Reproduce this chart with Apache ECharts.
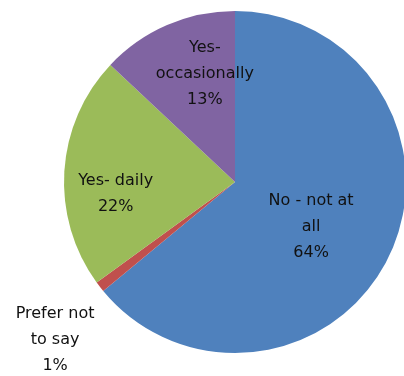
<!DOCTYPE html>
<html>
<head>
<meta charset="utf-8">
<script src="https://cdn.jsdelivr.net/npm/echarts@6/dist/echarts.min.js"></script>
<style>
  html, body { margin: 0; padding: 0; background: #fff; }
  #chart { width: 404px; height: 376px; }
</style>
</head>
<body>
<div id="chart"></div>
<script>
// Survey answers, clockwise from 12 o'clock
const categories = ['No - not at\nall', 'Prefer not\nto say', 'Yes- daily', 'Yes-\noccasionally'];
const shares = [64, 1, 22, 13];
const colors = ['#4F81BD', '#C0504D', '#9BBB59', '#8064A2'];
// nudges that move each label from the slice's mid-radius point
const labelOffsets = [[-4, 7], [-110, 104], [-31, 17], [5, -27]];

const chart = echarts.init(document.getElementById('chart'), null, { renderer: 'canvas' });

chart.setOption({
  animation: false,
  series: [{
    type: 'pie',
    center: [235, 182],
    radius: [0, 171],
    startAngle: 90,
    clockwise: true,
    avoidLabelOverlap: false,
    label: {
      show: true,
      position: 'inside',
      color: '#111',
      fontFamily: 'DejaVu Sans',
      fontSize: 16,
      lineHeight: 26,
      align: 'center',
      formatter: p => p.name + '\n' + p.value + '%'
    },
    labelLine: { show: false },
    emphasis: { disabled: true },
    itemStyle: { borderWidth: 0 },
    data: categories.map((name, i) => ({
      name,
      value: shares[i],
      itemStyle: { color: colors[i] },
      label: { offset: labelOffsets[i] }
    }))
  }]
});
</script>
</body>
</html>
